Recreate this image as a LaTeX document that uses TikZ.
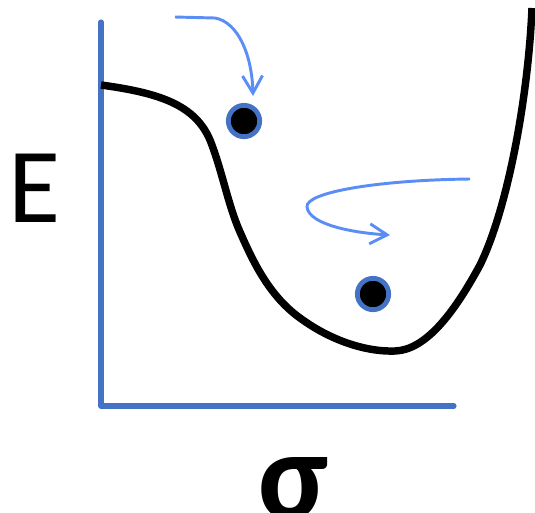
\documentclass[tikz,border=0pt]{standalone}
\usepackage{fontspec}
\setmainfont{Carlito}
\usetikzlibrary{arrows.meta}
\definecolor{axisc}{HTML}{4472C4}
\definecolor{movec}{HTML}{5B8EF5}

\begin{document}
\begin{tikzpicture}[x=.75pt,y=-.75pt,
  axis/.style={axisc,line width=3.8pt,line cap=round,line join=round},
  ball/.style={circle,fill=black,draw=axisc,line width=3.6pt,minimum size=23.5pt,inner sep=0pt},
  move/.style={movec,line width=2.2pt,-{Straight Barb[length=13pt,width=15pt]}}]
\useasboundingbox (0,0) rectangle (535,512);
% axes
\coordinate (ytop) at (101,22);
\coordinate (origin) at (101,406);
\coordinate (xend) at (454,406);
\draw[axis] (ytop) -- (origin) -- (xend);
\node[font=\fontsize{80}{80}\selectfont] (elabel) at (35,188) {E};
\node[font=\fontsize{96}{96}\selectfont\bfseries,inner sep=0pt,anchor=north] (slabel) at (293,457) {σ};
% energy curve
\draw[line width=5.6pt] (101,85) .. controls (160,93) and (195,105) .. (210,140)
  .. controls (222,170) and (228,205) .. (240,232)
  .. controls (252,259) and (268,295) .. (300,318)
  .. controls (330,340) and (365,352) .. (395,351)
  .. controls (425,350) and (453,315) .. (480,265)
  .. controls (507,210) and (528,100) .. (532,8);
% balls
\node[ball] (ballhigh) at (244,121) {};
\node[ball] (balllow) at (373,294) {};
% moves
\coordinate (dropstart) at (175,17);
\coordinate (dropend) at (253,96);
\draw[move] (dropstart) -- (215,18) .. controls (238,22) and (252,55) .. (dropend);
\coordinate (rollstart) at (470,179);
\coordinate (rollend) at (390,235);
\draw[move] (rollstart) .. controls (380,180) and (305,192) .. (307,207) .. controls (309,225) and (355,233) .. (rollend);
\end{tikzpicture}
\end{document}
